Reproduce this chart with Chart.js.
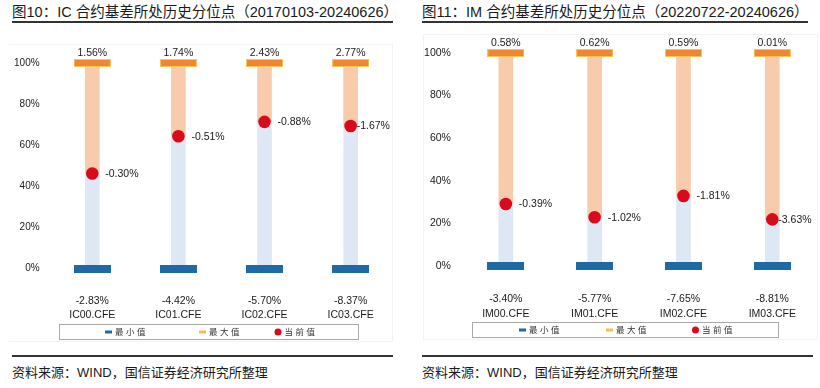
<!DOCTYPE html>
<html>
<head>
<meta charset="utf-8">
<script src="https://cdn.jsdelivr.net/npm/chart.js@4/dist/chart.umd.min.js"></script>
<style>
  body { margin: 0; width: 820px; height: 388px; background: #fff; position: relative; overflow: hidden;
         font-family: "Liberation Sans", "Noto Sans CJK SC", sans-serif; color: #1a1a1a; }
  .title { position: absolute; top: 0px; font-size: 14.5px; white-space: nowrap; }
  .rule { position: absolute; height: 1.5px; background: #333; }
  .src { position: absolute; top: 362px; font-size: 13px; white-space: nowrap; }
  .frame { position: absolute; border: 1px solid #f3f3f3; }
  canvas { position: absolute; }
</style>
</head>
<body>
<div class="title" style="left:12px">图10：IC 合约基差所处历史分位点（20170103-20240626）</div>
<div class="title" style="left:422px">图11：IM 合约基差所处历史分位点（20220722-20240626）</div>
<div class="rule" style="left:12px;width:381px;top:21px"></div>
<div class="rule" style="left:422px;width:386px;top:21px"></div>
<div class="frame" style="left:9px;top:44px;width:383px;height:296px;border-left:none"></div>
<div class="frame" style="left:423px;top:34px;width:393px;height:304px"></div>
<canvas id="ic" width="386" height="302" style="left:14px;top:40px"></canvas>
<canvas id="im" width="399" height="311" style="left:424px;top:30px"></canvas>
<div class="rule" style="left:12px;width:381px;top:355px"></div>
<div class="rule" style="left:422px;width:391px;top:355px"></div>
<div class="src" style="left:12px">资料来源：WIND，国信证券经济研究所整理</div>
<div class="src" style="left:422px">资料来源：WIND，国信证券经济研究所整理</div>
<script>
// 图10 IC
const icCats = ['IC00.CFE', 'IC01.CFE', 'IC02.CFE', 'IC03.CFE'];
const icMinTxt = ['-2.83%', '-4.42%', '-5.70%', '-8.37%'];
const icMaxTxt = ['1.56%', '1.74%', '2.43%', '2.77%'];
const icCurTxt = ['-0.30%', '-0.51%', '-0.88%', '-1.67%'];
const icCurPct = [46.3, 64.4, 71.4, 69.4];
// 图11 IM
const imCats = ['IM00.CFE', 'IM01.CFE', 'IM02.CFE', 'IM03.CFE'];
const imMinTxt = ['-3.40%', '-5.77%', '-7.65%', '-8.81%'];
const imMaxTxt = ['0.58%', '0.62%', '0.59%', '0.01%'];
const imCurTxt = ['-0.39%', '-1.02%', '-1.81%', '-3.63%'];
const imCurPct = [29.1, 22.9, 32.9, 21.9];
// 分位点：最小值=0，最大值=100
const minPct = [0, 0, 0, 0];
const maxPct = [100, 100, 100, 100];
const yTicks = [0, 20, 40, 60, 80, 100];
const legendNames = ['最小值', '最大值', '当前值'];

const C = { lowBar: '#dde8f4', highBar: '#f7cbac', minCap: '#1f69a4', maxCap: '#ef8732', maxEdge: '#f6c55a', maxLeg: '#f0c050', dot: '#d90a1c', txt: '#1a1a1a' };

function capImg(fill, edge, w, h) {
  const c = document.createElement('canvas'); c.width = w; c.height = h;
  const g = c.getContext('2d');
  g.fillStyle = edge; g.fillRect(0, 0, w, h);
  g.fillStyle = fill; g.fillRect(1, 1, w - 2, h - 2);
  return c;
}

// 最大值上方、当前值右侧的数值标签
const valueLabels = {
  id: 'valueLabels',
  afterDatasetsDraw(chart, args, o) {
    const { ctx, scales: { x, y } } = chart;
    ctx.save();
    ctx.font = o.size + 'px "Liberation Sans"';
    ctx.fillStyle = C.txt;
    ctx.textBaseline = 'middle';
    ctx.textAlign = 'center';
    o.maxTxt.forEach((t, i) => ctx.fillText(t, x.getPixelForValue(i), y.getPixelForValue(maxPct[i]) - 10));
    ctx.textAlign = 'left';
    o.curTxt.forEach((t, i) => ctx.fillText(t, x.getPixelForValue(i) + o.dx[i], y.getPixelForValue(o.pct[i]) + 0.5));
    ctx.restore();
  }
};

// 带边框的图例
const boxLegend = {
  id: 'boxLegend',
  afterDraw(chart, args, o) {
    const ctx = chart.ctx;
    ctx.save();
    ctx.strokeStyle = '#a9a9a9'; ctx.lineWidth = 1;
    ctx.strokeRect(o.x + 0.5, o.y + 0.5, o.w, o.h);
    const cy = o.y + o.h / 2 + 0.5;
    ctx.font = '8.5px "Noto Sans CJK SC"';
    ctx.letterSpacing = '2.5px';
    ctx.textBaseline = 'middle'; ctx.textAlign = 'left';
    legendNames.forEach((name, i) => {
      const x = o.x + o.items[i];
      if (i < 2) { ctx.fillStyle = i ? C.maxLeg : C.minCap; ctx.fillRect(x, cy - 1.5, 7, 3); }
      else { ctx.fillStyle = C.dot; ctx.beginPath(); ctx.arc(x + 3.5, cy, 3.5, 0, Math.PI * 2); ctx.fill(); }
      ctx.fillStyle = '#333';
      ctx.fillText(name, x + 10, cy);
    });
    ctx.restore();
  }
};

function makeChart(id, cats, minTxt, maxTxt, curTxt, pct, o) {
  return new Chart(document.getElementById(id), {
    type: 'bar',
    data: {
      labels: cats.map((c, i) => [minTxt[i], c]),
      datasets: [
        { type: 'line', label: legendNames[2], data: pct, showLine: false, pointRadius: 6.3, pointBackgroundColor: C.dot, pointBorderColor: C.dot, pointBorderWidth: 0, clip: false },
        { type: 'line', label: legendNames[1], data: maxPct, showLine: false, pointStyle: capImg(C.maxCap, C.maxEdge, 37, 8), clip: false },
        { type: 'line', label: legendNames[0], data: minPct, showLine: false, pointStyle: capImg(C.minCap, C.minCap, 37, 8), clip: false },
        { label: 'low', data: pct.map((p, i) => [minPct[i], p]), backgroundColor: C.lowBar, barThickness: 14, grouped: false },
        { label: 'high', data: pct.map((p, i) => [p, maxPct[i]]), backgroundColor: C.highBar, barThickness: 14, grouped: false },
      ],
    },
    options: {
      responsive: false, animation: false, devicePixelRatio: 1,
      layout: { padding: { top: o.top, bottom: o.bottom, right: 0, left: 0 } },
      plugins: {
        legend: { display: false }, tooltip: { enabled: false },
        valueLabels: { maxTxt, curTxt, pct, dx: [13, 13, 13, 6], size: 10.5 },
        boxLegend: o.legend,
      },
      scales: {
        x: {
          afterFit: ax => { ax.height = o.xH; },
          grid: { display: false, drawTicks: false }, border: { display: false },
          ticks: { color: C.txt, padding: o.xPad, font: { size: 10.5, family: '"Liberation Sans"', lineHeight: o.lh }, maxRotation: 0 },
        },
        y: {
          min: 0, max: 100,
          afterFit: ax => { ax.width = o.yW; },
          afterBuildTicks: ax => { ax.ticks = yTicks.map(v => ({ value: v })); },
          grid: { display: false, drawTicks: false }, border: { display: false },
          ticks: { color: C.txt, padding: o.yPad, font: { size: o.ySize, family: '"Liberation Sans"' }, callback: v => v + '%' },
        },
      },
    },
    plugins: [valueLabels, boxLegend],
  });
}

makeChart('ic', icCats, icMinTxt, icMaxTxt, icCurTxt, icCurPct,
  { top: 23, bottom: 20, xH: 53.3, xPad: 25, lh: 1.36, yW: 35.2, ySize: 10, yPad: 9.6,
    legend: { x: 45, y: 284, w: 299, h: 15, items: [46, 140, 215.5] } });
makeChart('im', imCats, imMinTxt, imMaxTxt, imCurTxt, imCurPct,
  { top: 23, bottom: 20, xH: 55, xPad: 25, lh: 1.45, yW: 37.4, ySize: 10.5, yPad: 10.5,
    legend: { x: 48, y: 292, w: 306, h: 15, items: [47, 134, 220] } });
</script>
</body>
</html>
